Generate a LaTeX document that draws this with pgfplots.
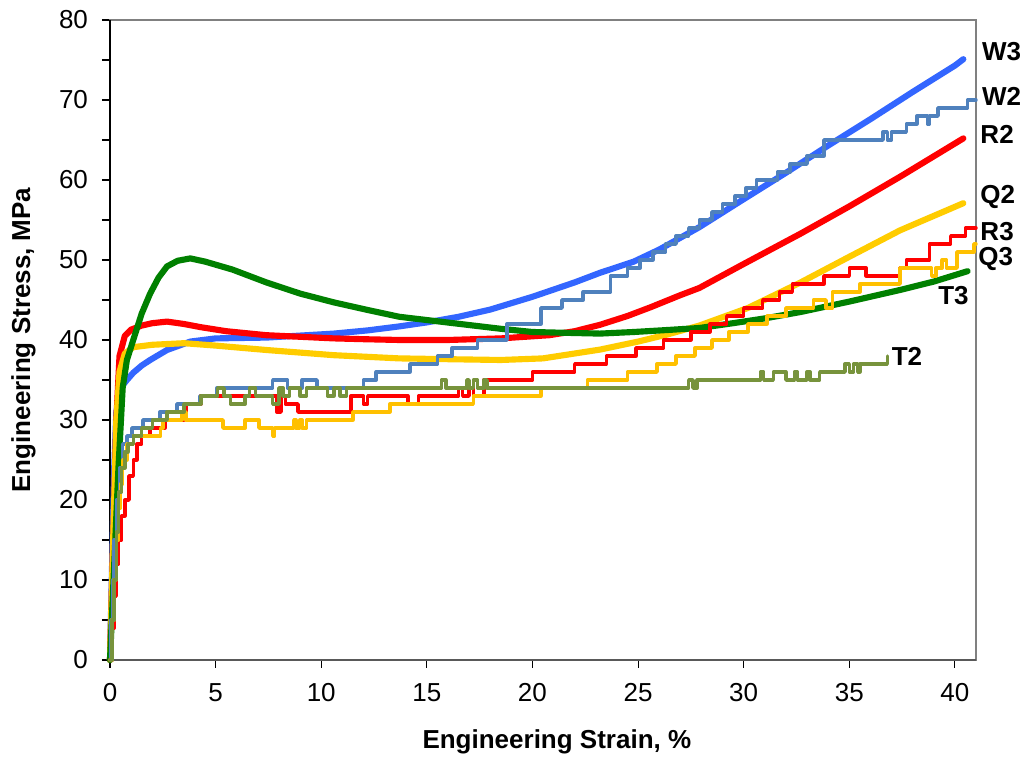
\documentclass[border=0pt]{standalone}
\usepackage{pgfplots}
\pgfplotsset{compat=1.18}
\usepackage{fontspec}
\setmainfont{Liberation Sans}
\definecolor{cW3}{RGB}{51,102,255}
\definecolor{cW2}{RGB}{79,129,189}
\definecolor{cR}{RGB}{255,0,0}
\definecolor{cQ2}{RGB}{255,204,0}
\definecolor{cQ3}{RGB}{255,192,0}
\definecolor{cT3}{RGB}{0,128,0}
\definecolor{cT2}{RGB}{119,147,60}
\begin{document}
\begin{tikzpicture}
\begin{axis}[
  width=649.5pt, height=480pt, scale only axis,
  xmin=0, xmax=41, ymin=0, ymax=80,
  xtick={0,5,...,40}, ytick={0,10,...,80},
  minor y tick num=1,
  tick align=outside, xtick pos=bottom, ytick pos=left,
  major tick length=6pt, minor tick length=6pt,
  tick style={black, line width=0.8pt},
  axis line style={draw=gray, line width=1pt},
  ticklabel style={font=\fontsize{19.5}{23}\selectfont},
  yticklabel style={xshift=-7pt},
  xticklabel style={yshift=-8pt},
  /pgf/number format/assume math mode=true,
  xlabel={Engineering Strain, \%},
  ylabel={Engineering Stress, MPa},
  label style={font=\bfseries\fontsize{19.5}{23}\selectfont},
  xlabel style={at={(axis description cs:0.516,-0.128)}, anchor=center},
  ylabel style={at={(axis description cs:-0.1,0.5)}, anchor=center},
  clip=false,
  every axis plot/.append style={line join=round, line cap=round},
]
\path[draw=none] ([shift={(-82.5pt,-72.75pt)}]rel axis cs:0,0) rectangle ([shift={(38.25pt,15pt)}]rel axis cs:1,1);
\draw[black, line width=1pt] (rel axis cs:0,0) -- (rel axis cs:0,1);
\draw[black!65, line width=1pt] (rel axis cs:0,0) -- (rel axis cs:1,0);

% W3 thick
\addplot[cW3, line width=4.6pt] coordinates {
(0,0)(0.1,12)(0.2,24)(0.3,31)(0.5,34)(0.8,35)(1.1,35.9)(1.5,36.8)(1.9,37.5)(2.7,38.75)(3.8,39.8)(5,40.2)(7.4,40.3)(10.6,40.8)(12.2,41.2)(13.7,41.7)(15,42.2)(16.5,42.9)(18,43.8)(20,45.4)(22,47.2)(23.2,48.4)(24.8,49.8)(26,51.3)(27.9,54.1)(30,57.6)(32,60.9)(34,64.3)(36,67.6)(38,71.0)(40,74.3)(40.4,75.1)};
% R2 thick
\addplot[cR, line width=4.6pt] coordinates {
(0,0)(0.15,15)(0.3,30)(0.45,38)(0.7,40.5)(1,41.3)(1.5,41.8)(2,42.1)(2.7,42.3)(3.5,42)(4.3,41.6)(5.5,41.1)(7.4,40.6)(9,40.4)(10.6,40.2)(12,40.1)(13.7,40.0)(16,40.0)(18.5,40.2)(20.8,40.6)(22,41.1)(23.2,41.9)(24.5,43)(25.6,44.1)(27,45.6)(27.9,46.5)(30,49.5)(32.7,53.3)(35,56.7)(37.4,60.4)(40.4,65.2)};
% Q2 thick
\addplot[cQ2, line width=4.6pt] coordinates {
(0,0)(0.15,15)(0.3,30)(0.45,36)(0.7,38.3)(1.1,39.1)(2,39.4)(3.5,39.6)(5,39.3)(7.4,38.75)(10.6,38.1)(13.7,37.7)(16,37.6)(18.5,37.5)(20.5,37.7)(23.2,38.8)(25,39.8)(26.4,40.7)(27.9,41.8)(30.2,44)(32.7,47.2)(35,50.4)(37.4,53.7)(40.4,57.1)};
% T3 thick
\addplot[cT3, line width=4.6pt] coordinates {
(0,0)(0.2,12)(0.4,24)(0.6,34)(0.8,37.5)(1.1,40)(1.5,43.3)(1.9,45.8)(2.3,47.8)(2.7,49.2)(3.2,49.9)(3.8,50.2)(4.5,49.8)(5.8,48.8)(7.4,47.2)(9,45.8)(10.6,44.7)(12.2,43.75)(13.7,42.9)(15.3,42.4)(16.9,41.9)(18.5,41.4)(20,41.0)(21.5,40.9)(23.2,40.8)(24.8,41.0)(26.4,41.25)(27.9,41.5)(29.5,42.1)(31,42.7)(32.7,43.5)(35,44.8)(37.4,46.25)(39,47.3)(40.6,48.6)};

% W2 steps
\addplot[cW2, line width=2.6pt, const plot] coordinates {
(0,0)(0.05,5)(0.12,10)(0.2,15)(0.3,20)(0.45,24)(0.6,27)(0.8,28)(1.04,29)(1.56,30)(2.37,31)(3.17,32)(4.26,33)(5.06,34)(7.7,35)(8.4,34)(9.1,35)(9.8,34)(12.0,35)(12.6,36)(14.2,37)(15.5,38)(16.2,39)(17.4,40)(18.8,42)(20.4,44)(21.4,45)(22.4,46)(23.7,48)(24.5,49)(25.1,50)(25.7,51)(26.3,52)(26.8,53)(27.4,54)(27.9,55)(28.5,56)(29.0,57)(29.6,58)(30.1,59)(30.6,60)(31.6,61)(32.2,62)(33.0,63)(33.8,65)(36.6,66)(36.8,65)(37.0,66)(37.7,67)(38.2,68)(38.7,67)(38.8,68)(39.2,69)(40.6,70)(41.0,70)};
% R3 steps
\addplot[cR, line width=2.6pt, const plot] coordinates {
(0,0)(0.1,4)(0.2,8)(0.3,12)(0.4,15)(0.55,18)(0.7,20)(0.9,23)(1.1,25)(1.27,27)(1.5,28)(1.9,29)(2.6,30)(3.5,31)(3.6,32)(4.3,33)(7.9,31)(8.1,33)(8.3,32)(8.9,31)(11.4,33)(12.0,32)(12.2,33)(14.1,32)(14.6,33)(16.5,34)(16.7,33)(17.0,34)(17.2,33)(17.7,35)(20.0,36)(22.0,37)(23.5,38)(24.9,39)(26.2,40)(27.5,41)(28.4,42)(29.2,43)(30.0,44)(30.9,45)(31.7,46)(32.3,47)(33.8,48)(35.0,49)(35.8,48)(37.4,49)(37.7,50)(38.8,52)(39.8,53)(40.5,54)(41.0,54)};
% Q3 steps
\addplot[cQ3, line width=2.6pt, const plot] coordinates {
(0,0)(0.1,5)(0.2,10)(0.3,15)(0.4,19)(0.5,22)(0.6,25)(0.8,27)(1.1,28)(2.4,29)(2.5,30)(3.4,31)(3.6,30)(5.35,29)(6.4,30)(7.05,29)(7.7,28)(7.8,29)(8.7,30)(8.8,29)(9.0,30)(9.1,29)(9.3,30)(11.5,31)(13.25,32)(17.2,33)(20.4,34)(22.6,35)(24.5,36)(25.9,37)(26.8,38)(27.7,39)(28.5,40)(29.3,41)(30.2,42)(31.1,43)(32.0,44)(33.3,45)(33.9,44)(34.2,46)(35.5,47)(37.4,49)(38.9,48)(39.1,49)(39.4,50)(39.6,49)(40.1,51)(40.9,52)(41.0,52)};
% T2 steps
\addplot[cT2, line width=2.6pt, const plot] coordinates {
(0,0)(0.1,5)(0.2,10)(0.3,16)(0.4,21)(0.55,24)(0.7,26)(0.85,27)(1.1,28)(1.5,29)(2.0,30)(2.7,31)(3.5,32)(4.3,33)(5.1,34)(5.4,33)(5.7,32)(6.4,33)(6.6,34)(6.9,33)(7.7,32)(8.0,34)(8.2,33)(8.5,34)(9.0,33)(9.3,34)(10.3,33)(10.6,34)(10.9,33)(11.2,34)(15.7,35)(15.9,34)(16.9,35)(17.0,34)(17.2,35)(17.4,34)(17.7,35)(17.85,34)(27.4,35)(27.6,34)(27.8,35)(30.8,36)(30.95,35)(31.4,36)(32.0,35)(32.4,36)(32.55,35)(33.0,36)(33.15,35)(33.6,36)(34.8,37)(35.0,36)(35.2,37)(35.4,36)(35.5,37)(36.8,38)};

\begin{scope}[every node/.style={anchor=west, inner sep=0pt, font=\bfseries\fontsize{19.5}{23}\selectfont}]
\node at (axis cs:41.28,76.0) {W3};
\node at (axis cs:41.28,70.4) {W2};
\node at (axis cs:41.2,65.7) {R2};
\node at (axis cs:41.2,57.9) {Q2};
\node at (axis cs:41.2,53.5) {R3};
\node at (axis cs:41.1,50.1) {Q3};
\node at (axis cs:39.2,45.5) {T3};
\node at (axis cs:37.0,37.9) {T2};
\end{scope}
\end{axis}
\end{tikzpicture}
\end{document}
